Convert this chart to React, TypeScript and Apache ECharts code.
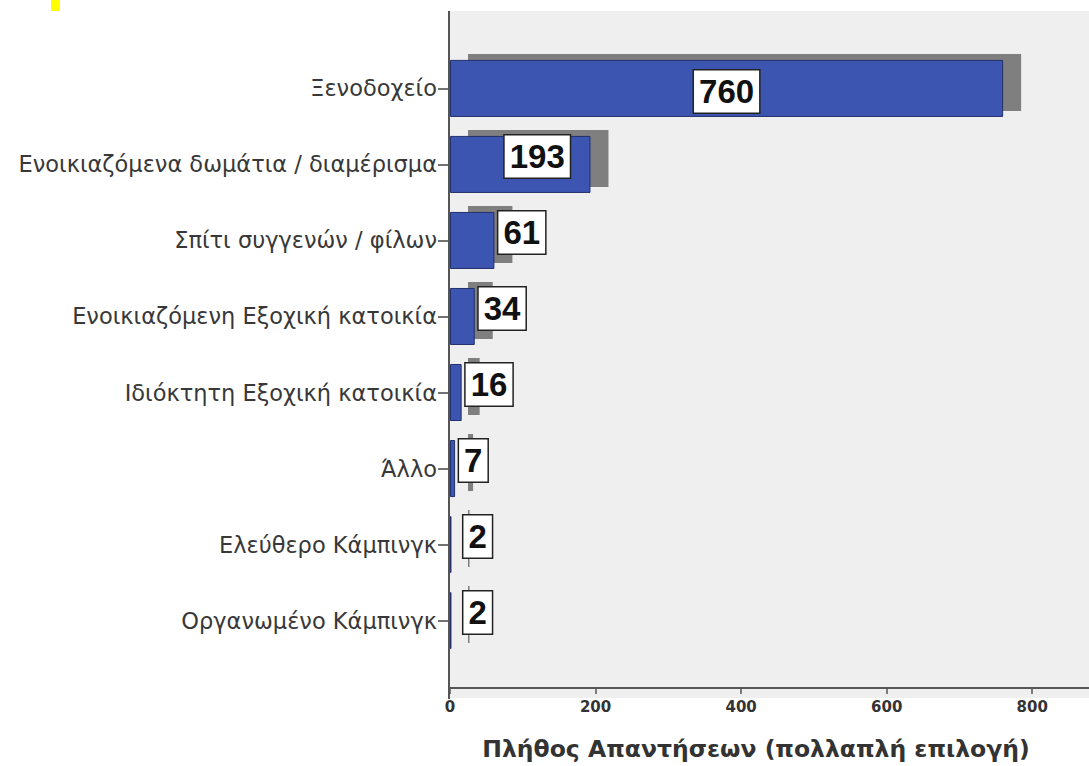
import React, { useEffect, useRef } from 'react';
import * as echarts from 'echarts';

const categories = [
  'Ξενοδοχείο',
  'Ενοικιαζόμενα δωμάτια / διαμέρισμα',
  'Σπίτι συγγενών / φίλων',
  'Ενοικιαζόμενη Εξοχική κατοικία',
  'Ιδιόκτητη Εξοχική κατοικία',
  'Άλλο',
  'Ελεύθερο Κάμπινγκ',
  'Οργανωμένο Κάμπινγκ',
];
const counts = [760, 193, 61, 34, 16, 7, 2, 2];
const xTicks = [0, 200, 400, 600, 800];
const xAxisTitle = 'Πλήθος Απαντήσεων (πολλαπλή επιλογή)';

const BAR_RATIO = 0.75;

function labelFor(v: number) {
  if (v >= 500) return { position: 'inside', offset: [0, 3] };
  if (v >= 100) return { position: 'inside', offset: [17, -8] };
  return { position: 'right', distance: v < 5 ? 12 : 4, offset: [0, -8] };
}

export default function App() {
  const ref = useRef<HTMLDivElement>(null);
  useEffect(() => {
    if (!ref.current) return;
    const chart = echarts.init(ref.current, undefined, { renderer: 'svg' });
    const option: any = {
      animation: false,
      backgroundColor: '#ffffff',
      grid: { left: 450, right: 0, top: 50.4, height: 618.4, containLabel: false },
      xAxis: {
        type: 'value',
        min: 0,
        max: 878,
        interval: 200,
        position: 'bottom',
        offset: 29.4,
        axisLine: { show: true, lineStyle: { color: '#555', width: 2 } },
        axisTick: { show: true, customValues: xTicks, length: 6, lineStyle: { color: '#555', width: 1.5 } },
        axisLabel: {
          customValues: xTicks,
          fontWeight: 'bold',
          fontSize: 15,
          color: '#333',
          margin: 11,
          fontFamily: 'DejaVu Sans',
        },
        splitLine: { show: false },
        name: xAxisTitle,
        nameLocation: 'middle',
        nameGap: 49,
        nameTextStyle: {
          fontSize: 23.5,
          fontWeight: 'bold',
          color: '#333',
          fontFamily: 'DejaVu Sans',
          padding: [0, 27, 0, 0],
        },
      },
      yAxis: {
        type: 'category',
        data: categories,
        inverse: true,
        axisLine: { show: false },
        axisTick: { show: true, alignWithLabel: true, length: 12, lineStyle: { color: '#444', width: 1.5 } },
        axisLabel: { fontSize: 22.5, color: '#383838', margin: 13, fontFamily: 'DejaVu Sans' },
        splitLine: { show: false },
      },
      graphic: [
        { type: 'rect', z: -10, silent: true, shape: { x: 450, y: 11, width: 639, height: 687 }, style: { fill: '#efefef' } },
        { type: 'rect', z: 10, silent: true, shape: { x: 51, y: 0, width: 9, height: 11 }, style: { fill: '#ffff00' } },
        { type: 'line', z: 10, silent: true, shape: { x1: 449, y1: 11, x2: 449, y2: 699 }, style: { stroke: '#555', lineWidth: 2 } },
      ],
      series: [
        {
          type: 'custom',
          z: 1,
          clip: false,
          silent: true,
          encode: { x: 0, y: 1 },
          data: counts.map((v, i) => [v, i]),
          renderItem: (params: any, api: any) => {
            const v = api.value(0);
            const c = api.value(1);
            const s = api.coord([0, c]);
            const e = api.coord([v, c]);
            const h = api.size([0, 1])[1] * BAR_RATIO;
            return {
              type: 'rect',
              shape: { x: s[0] + 18, y: s[1] - h / 2 - 6, width: Math.max(e[0] - s[0], 1.5), height: h },
              style: { fill: '#7f7f7f' },
            };
          },
        },
        {
          type: 'bar',
          z: 2,
          barCategoryGap: '25%',
          itemStyle: { color: '#3c55b0', borderColor: '#22306c', borderWidth: 1 },
          label: {
            show: true,
            color: '#111',
            fontWeight: 'bold',
            fontSize: 33,
            lineHeight: 33,
            fontFamily: 'Liberation Sans',
            backgroundColor: '#ffffff',
            borderColor: '#222',
            borderWidth: 1.5,
            padding: [5, 5, 4, 5],
          },
          data: counts.map((v) => ({ value: v, label: labelFor(v) })),
        },
      ],
    };
    chart.setOption(option);
    return () => chart.dispose();
  }, []);
  return (
    <div
      ref={ref}
      style={{ position: 'fixed', left: 0, top: 0, width: 1089, height: 766 }}
    />
  );
}
